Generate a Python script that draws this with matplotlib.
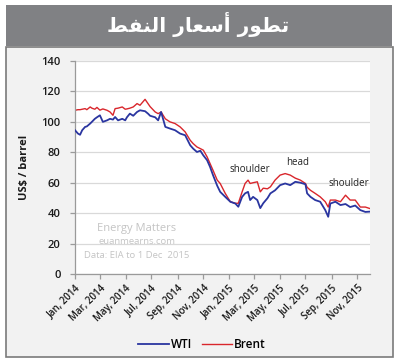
import matplotlib
matplotlib.use("Agg")
import matplotlib.pyplot as plt
from matplotlib.patches import Rectangle
from matplotlib.lines import Line2D
import pandas as pd

# ---------------- data ----------------
dates = ["2014-01-01","2014-01-08","2014-01-13","2014-01-18","2014-01-25","2014-01-29",
         "2014-02-06","2014-02-10","2014-02-17","2014-02-22","2014-03-01","2014-03-08",
         "2014-03-18","2014-03-25","2014-04-01","2014-04-06","2014-04-13","2014-04-23",
         "2014-04-30","2014-05-04","2014-05-11","2014-05-19","2014-05-28","2014-06-04",
         "2014-06-16","2014-06-23","2014-06-28","2014-07-10","2014-07-17","2014-07-24",
         "2014-08-03","2014-08-14","2014-08-26","2014-09-07","2014-09-19","2014-10-01",
         "2014-10-08","2014-10-17","2014-10-25","2014-11-01","2014-11-10","2014-11-17",
         "2014-11-24","2014-12-04","2014-12-11","2014-12-23","2015-01-04","2015-01-16",
         "2015-01-23","2015-02-01","2015-02-08","2015-02-15","2015-02-20","2015-02-27",
         "2015-03-09","2015-03-16","2015-03-23","2015-04-02","2015-04-09","2015-04-20",
         "2015-05-02","2015-05-14","2015-05-26","2015-06-07","2015-06-19","2015-07-01",
         "2015-07-05","2015-07-13","2015-07-24","2015-08-05","2015-08-17","2015-08-24",
         "2015-08-29","2015-09-10","2015-09-22","2015-10-04","2015-10-15","2015-10-27",
         "2015-11-08","2015-11-20","2015-12-01"]

wti = [94.5, 92.3, 91.5, 94.5, 96.7, 97.0,
       98.9, 100.0, 102.0, 103.0, 104.3, 100.0,
       101.0, 102.0, 101.5, 103.2, 101.0, 102.0,
       101.0, 103.0, 105.4, 104.0, 106.5, 107.6,
       107.0, 105.4, 104.0, 103.0, 101.0, 106.5,
       96.7, 95.6, 94.5, 92.3, 91.2, 84.6,
       82.4, 80.2, 81.0, 78.0, 74.8, 70.4,
       65.0, 58.0, 54.0, 50.7, 47.5, 46.3,
       44.2, 50.7, 53.0, 54.0, 48.6, 50.7,
       48.6, 43.3, 46.5, 49.8, 53.0, 55.0,
       58.4, 59.5, 58.4, 60.6, 60.0, 59.0,
       53.0, 50.7, 48.6, 47.5, 42.0, 37.6,
       46.3, 47.5, 45.3, 46.0, 44.0, 45.0,
       42.0, 40.8, 41.0]

brent = [107.6, 108.0, 108.0, 108.3, 108.7, 108.0,
         109.8, 109.0, 108.3, 109.5, 107.7, 108.5,
         107.6, 106.5, 104.3, 108.7, 109.0, 109.8,
         108.3, 108.5, 109.0, 109.8, 112.0, 110.9,
         114.8, 112.0, 110.0, 106.5, 105.4, 106.5,
         102.0, 100.0, 98.9, 96.7, 93.4, 87.9,
         85.7, 83.5, 82.4, 81.4, 77.0, 72.6,
         68.2, 61.7, 59.5, 53.0, 47.5, 46.5,
         46.5, 54.0, 59.5, 61.7, 59.5, 60.0,
         60.6, 54.0, 56.4, 56.0, 57.3, 61.7,
         65.0, 66.0, 65.0, 63.0, 61.7, 59.5,
         57.0, 55.0, 53.0, 50.7, 47.5, 44.0,
         48.6, 48.6, 47.5, 51.8, 48.6, 48.6,
         44.0, 44.0, 43.0]

tick_dates = ["2014-01-01","2014-03-01","2014-05-01","2014-07-01","2014-09-01","2014-11-01",
              "2015-01-01","2015-03-01","2015-05-01","2015-07-01","2015-09-01","2015-11-01"]
tick_labels = ["Jan, 2014","Mar, 2014","May, 2014","Jul, 2014","Sep, 2014","Nov, 2014",
               "Jan, 2015","Mar, 2015","May, 2015","Jul, 2015","Sep, 2015","Nov, 2015"]
y_ticks = [0, 20, 40, 60, 80, 100, 120, 140]

title_ar = "\uFEC2\uFED4\uFEE8\uFEDF\uFE8D \uFEAD\uFE8E\uFECC\uFEB3\uFE83 \uFEAD\uFEEE\uFEC4\uFE97"  # تطور أسعار النفط (shaped, visual order)

# ---------------- figure ----------------
W, H = 400, 363
fig = plt.figure(figsize=(W/100, H/100), dpi=100)
fig.patch.set_facecolor("white")

def fx(px): return px / W
def fy(py): return 1 - py / H

# outer panel
fig.patches.append(Rectangle((fx(6), fy(357)), fx(393) - fx(6), fy(47) - fy(357),
                             transform=fig.transFigure, facecolor="#f2f2f2",
                             edgecolor="#7a7a7a", linewidth=1.2, zorder=-10))
# title banner
fig.patches.append(Rectangle((fx(6), fy(46)), fx(392) - fx(6), fy(5) - fy(46),
                             transform=fig.transFigure, facecolor="#808184",
                             edgecolor="none", zorder=-9))
fig.text(fx(198), fy(24), title_ar, color="white", fontsize=14.5, fontweight="bold",
         family="DejaVu Sans", ha="center", va="center")

x = pd.to_datetime(dates)
ax = fig.add_axes([fx(75), fy(274), fx(370) - fx(75), fy(61) - fy(274)])
ax.set_facecolor("white")
ax.plot(x, wti, color="#2a35a0", lw=1.3, label="WTI", zorder=3)
ax.plot(x, brent, color="#d9262c", lw=1.0, label="Brent", zorder=2)

ax.set_ylim(0, 140)
ax.set_xlim(pd.Timestamp("2014-01-01"), pd.Timestamp("2015-12-01"))
ax.set_yticks(y_ticks)
ax.set_xticks(pd.to_datetime(tick_dates))
ax.set_xticklabels(tick_labels, rotation=45, ha="right", rotation_mode="anchor")
ax.grid(axis="y", color="#d9d9d9", lw=0.9)
ax.set_axisbelow(True)
for s in ["top", "right"]:
    ax.spines[s].set_visible(False)
for s in ["left", "bottom"]:
    ax.spines[s].set_color("#9a9a9a")
    ax.spines[s].set_linewidth(0.9)
ax.tick_params(axis="both", direction="out", length=3.5, color="#9a9a9a", width=0.9)
ax.tick_params(axis="y", pad=7, labelsize=8, labelcolor="#1a1a1a")
ax.tick_params(axis="x", pad=3, labelsize=7, labelcolor="#1a1a1a")
for lab in ax.get_yticklabels() + ax.get_xticklabels():
    lab.set_family("Open Sans")
    lab.set_fontweight("semibold")
ax.set_ylabel("US$ / barrel", fontsize=8, fontweight="bold", family="Open Sans",
              color="#1a1a1a", labelpad=8)

# annotations
ax.text(pd.Timestamp("2015-02-20"), 69, "shoulder", fontsize=7, family="Open Sans",
        color="#222222", ha="center", va="center")
ax.text(pd.Timestamp("2015-06-12"), 73.6, "head", fontsize=7, family="Open Sans",
        color="#222222", ha="center", va="center")
ax.text(pd.Timestamp("2015-10-11"), 59.8, "shoulder", fontsize=7, family="Open Sans",
        color="#222222", ha="center", va="center")

# watermark
fig.text(fx(137), fy(228), "Energy Matters", fontsize=8, family="Open Sans",
         color="#c4c4c4", ha="center", va="center")
fig.text(fx(137), fy(242), "euanmearns.com", fontsize=6.8, family="Open Sans",
         color="#c4c4c4", ha="center", va="center")
fig.text(fx(137), fy(255), "Data: EIA to 1 Dec  2015", fontsize=6.8, family="Open Sans",
         color="#c4c4c4", ha="center", va="center")

# legend
handles = [Line2D([], [], color="#2a35a0", lw=1.3), Line2D([], [], color="#d9262c", lw=1.0)]
fig.legend(handles, ["WTI", "Brent"], loc="center", bbox_to_anchor=(fx(202), fy(345)),
           ncol=2, frameon=False, handlelength=2.6, handletextpad=0.15, columnspacing=0.8,
           prop={"family": "Open Sans", "weight": "semibold", "size": 8.5})

fig.savefig("out.png", dpi=100, facecolor="white")
